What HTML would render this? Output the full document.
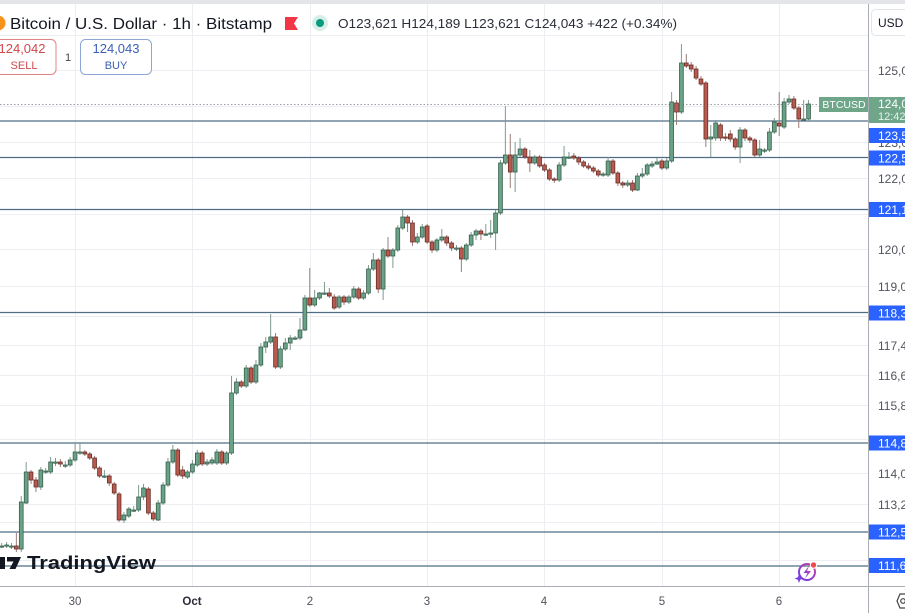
<!DOCTYPE html>
<html><head><meta charset="utf-8"><style>
html,body{margin:0;padding:0;background:#fff;}
svg{display:block;font-family:"Liberation Sans",sans-serif;}
</style></head><body>
<svg id="c" width="905" height="613" viewBox="0 0 905 613" xmlns="http://www.w3.org/2000/svg">
<defs>
<linearGradient id="pg" x1="0" y1="1" x2="1" y2="0"><stop offset="0" stop-color="#6a3de8"/><stop offset="1" stop-color="#d0409a"/></linearGradient>
<clipPath id="chartclip"><rect x="0" y="0" width="868" height="586"/></clipPath>
</defs>
<rect x="0" y="0" width="905" height="613" fill="#fff"/>
<rect x="0" y="0" width="905" height="4" fill="#e4e5e8"/>
<!-- grid -->
<g stroke="#eceef1" stroke-width="1">
<line x1="75.5" y1="4" x2="75.5" y2="586"/>
<line x1="192.5" y1="4" x2="192.5" y2="586"/>
<line x1="310.5" y1="4" x2="310.5" y2="586"/>
<line x1="427.5" y1="4" x2="427.5" y2="586"/>
<line x1="544.5" y1="4" x2="544.5" y2="586"/>
<line x1="662.5" y1="4" x2="662.5" y2="586"/>
<line x1="779.5" y1="4" x2="779.5" y2="586"/>
<line x1="0" y1="35.5" x2="868" y2="35.5"/>
<line x1="0" y1="70.5" x2="868" y2="70.5"/>
<line x1="0" y1="106.5" x2="868" y2="106.5"/>
<line x1="0" y1="142.5" x2="868" y2="142.5"/>
<line x1="0" y1="178.5" x2="868" y2="178.5"/>
<line x1="0" y1="214.5" x2="868" y2="214.5"/>
<line x1="0" y1="249.5" x2="868" y2="249.5"/>
<line x1="0" y1="286.5" x2="868" y2="286.5"/>
<line x1="0" y1="316.5" x2="868" y2="316.5"/>
<line x1="0" y1="345.5" x2="868" y2="345.5"/>
<line x1="0" y1="375.5" x2="868" y2="375.5"/>
<line x1="0" y1="405.5" x2="868" y2="405.5"/>
<line x1="0" y1="439.5" x2="868" y2="439.5"/>
<line x1="0" y1="473.5" x2="868" y2="473.5"/>
<line x1="0" y1="504.5" x2="868" y2="504.5"/>
<line x1="0" y1="522.5" x2="868" y2="522.5"/>
<line x1="0" y1="560.5" x2="868" y2="560.5"/>
</g>
<!-- horizontal levels -->
<g stroke="#4f6e86" stroke-width="1.2">
<line x1="0" y1="121" x2="868" y2="121"/>
<line x1="0" y1="157.5" x2="868" y2="157.5"/>
<line x1="0" y1="209.5" x2="868" y2="209.5"/>
<line x1="0" y1="312.5" x2="868" y2="312.5"/>
<line x1="0" y1="443" x2="868" y2="443"/>
<line x1="0" y1="532" x2="868" y2="532"/>
<line x1="0" y1="566" x2="868" y2="566"/>
</g>
<line x1="0" y1="104.5" x2="819" y2="104.5" stroke="#9a9ea6" stroke-width="1" stroke-dasharray="1.5 2"/>
<g id="candles" clip-path="url(#chartclip)"></g>

<!-- header -->
<circle cx="-2" cy="23" r="7.5" fill="#f7931a"/>
<text x="10" y="29" font-size="16" fill="#131722" textLength="262" lengthAdjust="spacingAndGlyphs">Bitcoin / U.S. Dollar · 1h · Bitstamp</text>
<path d="M285 17 H298 L294 23.5 L298 30 H285 Z" fill="#f23645"/>
<circle cx="320" cy="23" r="8" fill="#d6efe8"/>
<circle cx="320" cy="23" r="4" fill="#089981"/>
<text x="338" y="28" font-size="13" fill="#2a2e39" textLength="339" lengthAdjust="spacingAndGlyphs">O123,621  H124,189  L123,621  C124,043  +422 (+0.34%)</text>
<rect x="-8" y="39.5" width="64" height="35" rx="5" fill="#fff" stroke="#e08484" stroke-width="1"/>
<text x="22" y="53" font-size="13" fill="#d2484b" text-anchor="middle">124,042</text>
<text x="24" y="69" font-size="11" fill="#d2484b" text-anchor="middle">SELL</text>
<text x="68" y="61" font-size="11" fill="#444" text-anchor="middle">1</text>
<rect x="80.5" y="39.5" width="71" height="35" rx="5" fill="#fff" stroke="#8ea6d6" stroke-width="1"/>
<text x="116" y="53" font-size="13" fill="#3b5fb6" text-anchor="middle">124,043</text>
<text x="116" y="69" font-size="11" fill="#3b5fb6" text-anchor="middle">BUY</text>

<!-- TradingView logo -->
<rect x="0" y="557" width="5" height="12" fill="#131722"/>
<path d="M7 557 H21 L15.5 569 H9.5 L13.5 561.5 H7 Z" fill="#131722"/>
<text x="27" y="569" font-size="18" font-weight="bold" fill="#131722" textLength="129" lengthAdjust="spacingAndGlyphs">TradingView</text>

<!-- purple icon -->
<circle cx="807" cy="572" r="8" fill="none" stroke="url(#pg)" stroke-width="2"/>
<path d="M809 566 L803.5 573 H807.5 L805 578.5 L811 571 H807 Z" fill="url(#pg)"/>
<path d="M799 574 L800.2 577.3 L803.5 578.5 L800.2 579.7 L799 583 L797.8 579.7 L794.5 578.5 L797.8 577.3 Z" fill="#7a3fe0"/>
<circle cx="813.5" cy="565" r="3.2" fill="#f04a4a" stroke="#fff" stroke-width="1"/>

<!-- BTCUSD label -->
<rect x="819" y="97" width="50" height="15" fill="#6fa68a"/>
<text x="844" y="108" font-size="10.5" fill="#fff" text-anchor="middle">BTCUSD</text>

<!-- axes -->
<rect x="869" y="4" width="36" height="582" fill="#fff"/>
<line x1="868.5" y1="4" x2="868.5" y2="613" stroke="#a9adb5" stroke-width="1"/>
<line x1="0" y1="586.5" x2="905" y2="586.5" stroke="#a9adb5" stroke-width="1"/>
<rect x="871.5" y="9.5" width="40" height="26" rx="4" fill="#fff" stroke="#e3e5ea"/>
<text x="878" y="27" font-size="12" fill="#131722">USD</text>
<g font-size="12" fill="#50535e">
<text x="878" y="75">125,000</text>
<text x="878" y="147">123,000</text>
<text x="878" y="183">122,000</text>
<text x="878" y="254">120,000</text>
<text x="878" y="291">119,000</text>
<text x="878" y="350">117,400</text>
<text x="878" y="380">116,600</text>
<text x="878" y="410">115,800</text>
<text x="878" y="478">114,000</text>
<text x="878" y="509">113,200</text>
</g>
<rect x="869" y="97" width="36" height="26" fill="#6fa68a"/>
<text x="878" y="108" font-size="12" fill="#fff">124,043</text>
<text x="878" y="120" font-size="11" fill="#e6f2ec">12:42</text>
<g fill="#2962ff">
<rect x="869" y="128" width="36" height="15"/>
<rect x="869" y="150.5" width="36" height="15"/>
<rect x="869" y="202" width="36" height="15"/>
<rect x="869" y="305.5" width="36" height="15"/>
<rect x="869" y="435.5" width="36" height="15"/>
<rect x="869" y="524.5" width="36" height="15"/>
<rect x="869" y="558" width="36" height="15"/>
</g>
<g font-size="12" fill="#fff">
<text x="878" y="140">123,540</text>
<text x="878" y="162.5">122,560</text>
<text x="878" y="214">121,100</text>
<text x="878" y="317.5">118,300</text>
<text x="878" y="447.5">114,800</text>
<text x="878" y="536.5">112,500</text>
<text x="878" y="570">111,600</text>
</g>
<g font-size="11.5" fill="#50535e" text-anchor="middle">
<text x="75" y="605">30</text>
<text x="192" y="605" fill="#2a2e39" font-weight="bold">Oct</text>
<text x="310" y="605">2</text>
<text x="427" y="605">3</text>
<text x="544" y="605">4</text>
<text x="662" y="605">5</text>
<text x="779" y="605">6</text>
</g>
<path d="M900 594 L906 594 L909 601 L906 608 L900 608 L897 601 Z" fill="none" stroke="#444" stroke-width="1.2"/>
<circle cx="903" cy="601" r="2.3" fill="none" stroke="#444" stroke-width="1.2"/>
</svg>
<script>
(function(){
var D=[
[546,546,543,548],[546,545,542,548],[546,546,543,549],[546,549,533,552],[549,502,496,552],[503,472,462,504],[472,480,470,484],[480,487,477,492],[487,470,467,490],[471,471,468,474],
[472,462,457,474],[462,462,458,466],[462,464,459,467],[465,465,461,468],[465,460,457,467],[460,452,443,462],[452,452,442,455],[452,454,450,456],[454,458,452,460],[458,468,456,470],
[468,476,466,478],[476,476,470,478],[476,483,474,486],[484,493,482,495],[494,520,492,522],[520,515,512,523],[516,509,507,518],[510,510,506,512],[510,497,485,512],[497,488,484,500],
[489,513,487,515],[513,519,511,521],[520,503,500,521],[503,485,482,505],[485,462,458,487],[462,450,445,464],[450,475,448,477],[470,476,466,479],[477,472,470,479],[472,464,460,474],
[465,453,450,467],[453,464,451,466],[464,462,459,466],[463,460,457,465],[463,452,449,465],[452,463,450,465],[463,453,451,465],[453,393,376,455],
[393,382,378,395],[382,386,380,388],[386,368,365,388],[368,382,366,384],[382,365,360,384],[365,347,343,367],[347,342,337,353],[342,337,314,344],[337,367,333,369],[367,349,346,369],
[349,343,338,351],[343,338,335,350],[338,338,336,340],[338,330,318,340],[330,298,295,331],[298,305,268,307],[305,298,290,307],[298,293,292,300],[293,293,282,295],[293,296,288,298],
[297,308,294,310],[307,297,295,309],[297,302,295,305],[302,297,295,304],[297,289,286,299],[289,298,287,300],[298,293,290,300],[293,269,265,295],[269,260,253,271],[260,289,258,293],
[289,250,248,300],[250,256,237,258],[256,250,248,268],[250,228,225,252],[228,217,210,230],
[217,223,215,232],[223,242,220,246],[242,237,233,244],[237,227,224,239],[226,242,224,244],[242,250,240,253],[250,240,238,252],[240,237,229,242],[237,243,235,246],[243,248,241,251],
[248,248,245,251],[248,259,246,272],[259,245,243,261],[245,235,232,247],[235,231,229,240],[231,234,229,240],[234,234,224,236],[233,233,220,238],[233,213,210,250],[213,163,160,215],
[163,155,106,165],[155,172,134,188],[172,155,142,192],[155,149,138,157],[149,157,147,159],[157,163,150,172],[163,157,155,165],[157,166,155,168],[165,170,163,172],[170,179,168,181],
[179,180,177,183],[180,165,162,182],[165,157,146,167],[157,157,152,159],
[156,158,153,160],[158,162,156,165],[162,166,160,168],[166,168,163,170],[168,171,166,173],[171,175,169,177],[175,174,172,177],[175,161,157,177],[161,173,159,175],[173,183,171,186],
[183,185,181,188],[185,183,180,187],[183,190,180,192],[190,176,173,191],[176,174,168,178],[174,165,163,176],[166,164,161,168],[164,162,158,165],[161,168,159,170],[168,161,158,170],
[161,102,92,163],[103,112,100,125],[112,63,44,114],[63,66,54,68],[65,69,62,72],[69,78,66,80],[79,84,76,86],[83,139,81,147],[139,137,125,157],[138,123,120,141],
[125,138,123,141],[137,138,133,141],[134,139,130,142],[139,147,137,150],[147,130,127,163],[130,138,128,141],[138,140,136,143],[140,155,138,157],[155,149,140,157],[150,150,148,153],
[150,132,128,152],[132,122,118,134],[123,126,92,136],[127,102,98,129],[102,99,95,104],[99,108,96,110],[108,119,106,128],[119,119,100,121],[119,104,100,121]
];
var g=document.getElementById('candles'),s='';
for(var i=0;i<D.length;i++){
 var d=D[i],x=1.7+i*4.89,o=d[0],c=d[1],h=d[2],l=d[3];
 var up=c<=o, by=Math.min(o,c), bh=Math.max(1.2,Math.abs(o-c));
 s+='<line x1="'+x.toFixed(2)+'" y1="'+h+'" x2="'+x.toFixed(2)+'" y2="'+l+'" stroke="'+(up?'#7f9a8e':'#9a7d78')+'" stroke-width="1"/>';
 s+='<rect x="'+(x-1.9).toFixed(2)+'" y="'+by+'" width="3.8" height="'+bh+'" fill="'+(up?'#6aa287':'#b85a4e')+'" stroke="'+(up?'#36604d':'#6a2d27')+'" stroke-width="0.8"/>';
}
g.innerHTML=s;
})();
</script>
</body></html>
